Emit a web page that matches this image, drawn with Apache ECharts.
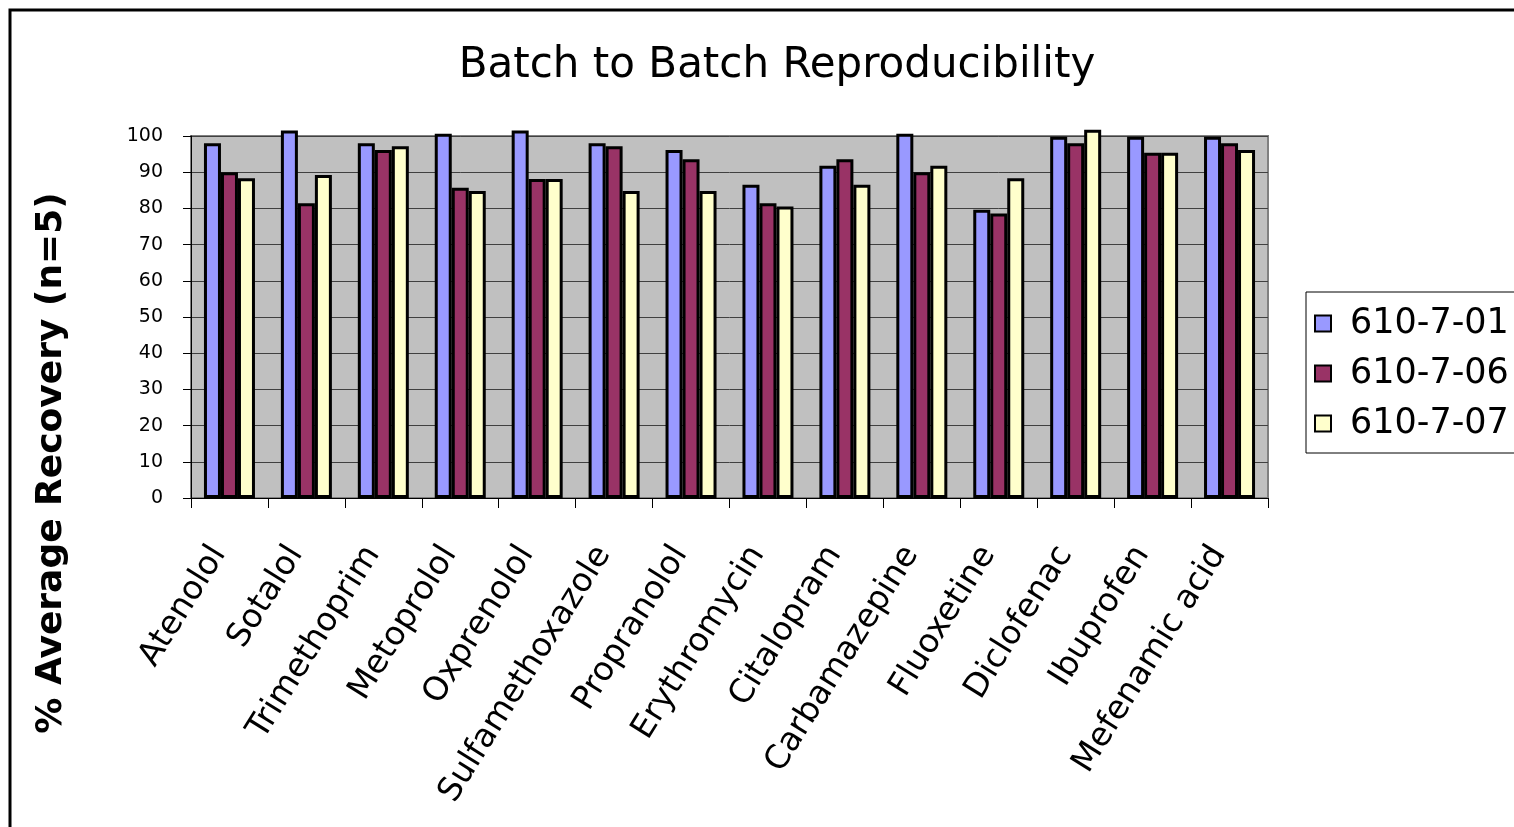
<!DOCTYPE html>
<html>
<head>
<meta charset="utf-8">
<title>Batch to Batch Reproducibility</title>
<script src="https://cdn.jsdelivr.net/npm/echarts@6/dist/echarts.min.js"></script>
<style>
    body { margin: 0; background: #ffffff; }
    #myBarChart { width: 1514px; height: 827px; }
</style>
</head>
<body>
<div id="myBarChart"></div>
<script>
function getID(ID) {
    return document.getElementById(ID);
}

// 数据
var categories = ['Atenolol', 'Sotalol', 'Trimethoprim', 'Metoprolol', 'Oxprenolol', 'Sulfamethoxazole',
    'Propranolol', 'Erythromycin', 'Citalopram', 'Carbamazepine', 'Fluoxetine', 'Diclofenac',
    'Ibuprofen', 'Mefenamic acid'];
var seriesNames = ['610-7-01', '610-7-06', '610-7-07'];
var batch01 = [98.0, 101.5, 98.0, 100.6, 101.5, 98.0, 96.1, 86.5, 91.8, 100.6, 79.6, 99.8, 99.8, 99.8];
var batch06 = [90.0, 81.4, 96.1, 85.7, 88.1, 97.2, 93.6, 81.4, 93.6, 90.0, 78.6, 98.0, 95.4, 98.0];
var batch07 = [88.3, 89.2, 97.2, 84.8, 88.1, 84.8, 84.8, 80.5, 86.5, 91.8, 88.3, 101.7, 95.4, 96.1];
var yTicks = [0, 10, 20, 30, 40, 50, 60, 70, 80, 90, 100];

var colors = ['#9999FF', '#993366', '#FFFFCC'];
var values = [batch01, batch06, batch07];

function makeSeries() {
    var list = [];
    for (var i = 0; i < seriesNames.length; i++) {
        list.push({
            name: seriesNames[i],
            type: 'bar',
            data: values[i],
            barWidth: 17,
            barGap: '0%',
            clip: false,
            itemStyle: {
                color: colors[i],
                borderColor: '#000000',
                borderWidth: 3
            }
        });
    }
    return list;
}

var myChart = echarts.init(getID('myBarChart'));
var option = {
    backgroundColor: '#ffffff',
    animation: false,
    title: {
        text: 'Batch to Batch Reproducibility',
        left: 772,
        top: 40,
        textAlign: 'center',
        textStyle: {
            fontFamily: 'DejaVu Sans',
            fontSize: 42,
            fontWeight: 'normal',
            color: '#000000'
        }
    },
    graphic: [{
        type: 'rect',
        z: -1,
        shape: { x: 10, y: 10, width: 1620, height: 900 },
        style: { fill: 'none', stroke: '#000000', lineWidth: 3 }
    }, {
        // 纵轴标题
        type: 'text',
        x: 52,
        y: 463,
        rotation: Math.PI / 2,
        style: {
            text: '% Average Recovery (n=5)',
            fontFamily: 'DejaVu Sans',
            fontSize: 36,
            fontWeight: 'bold',
            fill: '#000000',
            align: 'center',
            verticalAlign: 'middle'
        }
    }],
    legend: {
        data: seriesNames,
        orient: 'vertical',
        left: 1306,
        top: 292,
        padding: [14, 30, 12, 8],
        itemGap: 15,
        itemWidth: 16,
        itemHeight: 16,
        icon: 'rect',
        borderColor: '#000000',
        borderWidth: 1,
        backgroundColor: '#ffffff',
        textStyle: {
            fontFamily: 'DejaVu Sans',
            fontSize: 35,
            color: '#000000',
            padding: [0, 0, 0, 14]
        }
    },
    grid: {
        left: 191,
        right: 246,
        top: 136,
        bottom: 329,
        show: true,
        backgroundColor: '#C0C0C0',
        borderColor: '#808080',
        borderWidth: 2
    },
    xAxis: {
        type: 'category',
        data: categories,
        axisLine: { lineStyle: { color: '#000000', width: 1 } },
        axisTick: { show: true, length: 10, lineStyle: { color: '#000000' } },
        axisLabel: {
            rotate: 58,
            margin: 34,
            interval: 0,
            fontFamily: 'DejaVu Sans',
            fontSize: 33,
            color: '#000000',
            padding: [0, 20, 0, 0]
        }
    },
    yAxis: {
        type: 'value',
        min: yTicks[0],
        max: yTicks[yTicks.length - 1],
        interval: 10,
        axisLine: { show: true, lineStyle: { color: '#000000', width: 1 } },
        axisTick: { show: true, length: 8, lineStyle: { color: '#000000' } },
        axisLabel: {
            margin: 28,
            fontFamily: 'DejaVu Sans',
            fontSize: 19,
            color: '#000000'
        },
        splitLine: { lineStyle: { color: '#404040', width: 1 } }
    },
    series: makeSeries()
};
myChart.setOption(option);
</script>
</body>
</html>
